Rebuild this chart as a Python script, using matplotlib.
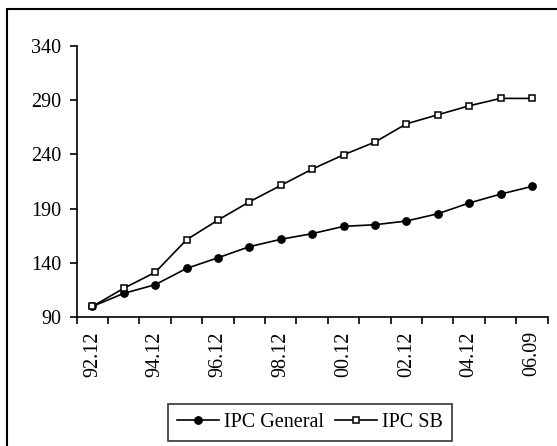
import numpy as np
import matplotlib.pyplot as plt
from matplotlib.patches import Rectangle

plt.rcParams['font.family'] = ['Liberation Serif', 'DejaVu Serif']

# Periods (yearly, December values, last one September 2006)
periods = ['92.12', '93.12', '94.12', '95.12', '96.12', '97.12', '98.12', '99.12',
           '00.12', '01.12', '02.12', '03.12', '04.12', '05.12', '06.09']
ipc_general = [100, 112.0, 120.0, 135.0, 144.8, 155.0, 161.8, 167.0,
               173.7, 175.2, 178.6, 185.3, 195.2, 203.4, 210.5]
ipc_sb = [100, 116.7, 131.4, 161.4, 179.5, 196.3, 211.4, 226.4,
          239.6, 251.3, 268.1, 276.4, 284.7, 291.5, 291.5]

fig = plt.figure(figsize=(5.57, 4.46), dpi=100)
ax = fig.add_axes([0.1377, 0.2886, 0.8456, 0.6089])

x = np.arange(len(periods))
ax.plot(x, ipc_general, color='black', lw=1.2, marker='o', ms=5.3,
        mfc='black', mec='black', label='IPC General')
ax.plot(x, ipc_sb, color='black', lw=1.2, marker='s', ms=4.6, mfc='white',
        mec='black', mew=1.1, label='IPC SB')

ax.set_xlim(-0.5, len(periods) - 0.5)
ax.set_ylim(90, 340)
ax.set_yticks(np.arange(90, 341, 50))

# category boundaries carry the tick marks, labels sit at the centres
ax.set_xticks(np.arange(len(periods) + 1) - 0.5)
ax.set_xticklabels([])
ax.set_xticks(x, minor=True)
ax.set_xticklabels([p if i % 2 == 0 else '' for i, p in enumerate(periods)],
                   minor=True, rotation=90)
ax.tick_params(axis='x', which='major', direction='out', length=5, width=1.2)
ax.tick_params(axis='x', which='minor', length=0, pad=10, labelsize=14.5)
ax.tick_params(axis='y', direction='out', length=5, width=1.2, pad=6, labelsize=14.5)

for side in ['top', 'right']:
    ax.spines[side].set_visible(False)
for side in ['left', 'bottom']:
    ax.spines[side].set_linewidth(1.2)

leg = fig.legend(loc='center', bbox_to_anchor=(0.5566, 0.0534), ncol=2,
                 fontsize=14.5, frameon=True, fancybox=False,
                 handlelength=2.1, handletextpad=0.25, columnspacing=0.55,
                 borderpad=0.45, borderaxespad=0)
leg.get_frame().set_edgecolor('black')
leg.get_frame().set_linewidth(1.2)

# outer frame around the chart area
fig.patches.append(Rectangle((6.7 / 557, -0.5), 2, 1.5 - 9 / 446,
                             transform=fig.transFigure, fill=False,
                             edgecolor='black', lw=1.5))

fig.savefig('out.png', dpi=100)
